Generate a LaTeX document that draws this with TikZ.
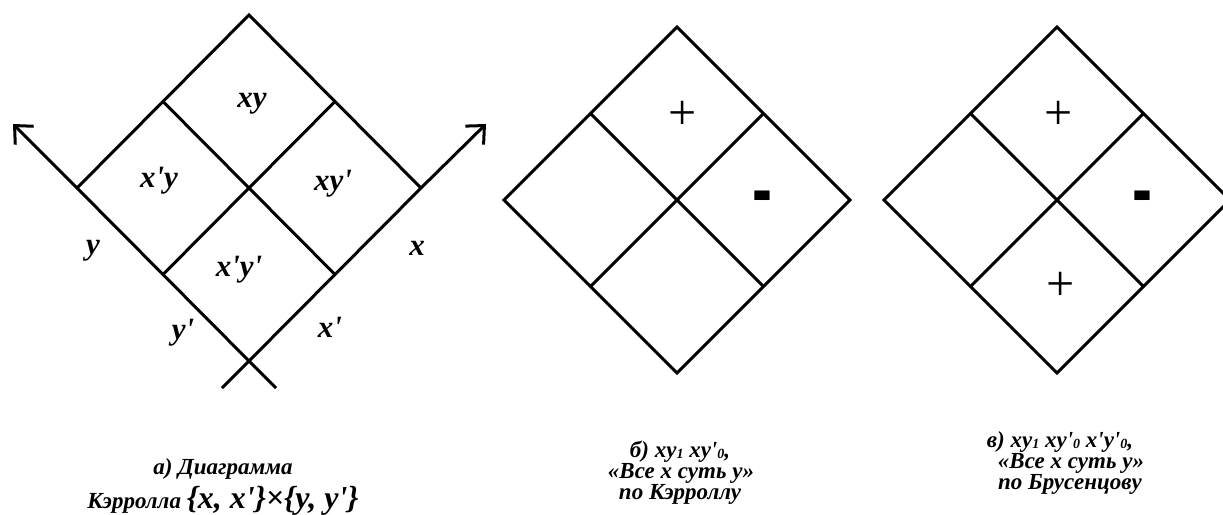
\documentclass[tikz,border=0pt]{standalone}
\usepackage{fontspec}
\newfontfamily\tnr{Liberation Serif}
\newfontfamily\arl{Liberation Sans}
\usetikzlibrary{arrows.meta,calc}
\newcommand\lowidx[1]{\raisebox{-1pt}{\fontsize{14}{14}\selectfont #1}}
\begin{document}
\begin{tikzpicture}[x=1pt,y=-1pt,
  edge/.style={line width=3pt},
  barb/.style={-{Straight Barb[length=14pt,width=26pt]}},
  lbl/.style={font=\tnr\bfseries\itshape\fontsize{31}{31}\selectfont, anchor=base, inner sep=0pt},
  captxt/.style={font=\tnr\bfseries\itshape\fontsize{23}{21}\selectfont, anchor=base, inner sep=0pt},
  plussign/.style={font=\tnr\fontsize{50}{50}\selectfont, inner sep=0pt},
  minussign/.style={font=\arl\bfseries\fontsize{40}{40}\selectfont, inner sep=0pt}
]
\useasboundingbox (0,0) rectangle (1223,514);

% ---------- diagram a ----------
\coordinate (aT) at (249,15);
\coordinate (aL) at (77,188);
\coordinate (aR) at (421,188);
\coordinate (aB) at (249,361);
\coordinate (aTL) at ($(aT)!0.5!(aL)$);
\coordinate (aTR) at ($(aT)!0.5!(aR)$);
\coordinate (aBL) at ($(aB)!0.5!(aL)$);
\coordinate (aBR) at ($(aB)!0.5!(aR)$);
\coordinate (aYend) at (276,388);
\coordinate (aXend) at (222,388);
\coordinate (aYtip) at (13,124);
\coordinate (aXtip) at (486,124);
\draw[edge] (aL) -- (aT) -- (aR);
\draw[edge] (aTL) -- (aBR);
\draw[edge] (aTR) -- (aBL);
\draw[edge,barb] (aYend) -- (aB) -- (aL) -- (aYtip);
\draw[edge,barb] (aXend) -- (aB) -- (aR) -- (aXtip);

\node[lbl] (lxy)   at (252,107) {xy};
\node[lbl] (lxpy)  at (159,187) {x'y};
\node[lbl] (lxyp)  at (333,190) {xy'};
\node[lbl] (lxpyp) at (239,276) {x'y'};
\node[lbl] (ly)    at (93,254) {y};
\node[lbl] (lx)    at (417,255) {x};
\node[lbl] (lyp)   at (183,339) {y'};
\node[lbl] (lxp)   at (330,337) {x'};

\node[captxt] (capa1) at (223,474) {а) Диаграмма};
\node[captxt] (capa2) at (223,508) {Кэрролла {\fontsize{32}{32}\selectfont\{x, x'\}×\{y, y'\}}};

% ---------- diagram b ----------
\coordinate (bT) at (677,27);
\coordinate (bL) at (504,200);
\coordinate (bR) at (850,200);
\coordinate (bB) at (677,373);
\coordinate (bTL) at ($(bT)!0.5!(bL)$);
\coordinate (bTR) at ($(bT)!0.5!(bR)$);
\coordinate (bBL) at ($(bB)!0.5!(bL)$);
\coordinate (bBR) at ($(bB)!0.5!(bR)$);
\draw[edge] (bT) -- (bR) -- (bB) -- (bL) -- cycle;
\draw[edge] (bTL) -- (bBR);
\draw[edge] (bTR) -- (bBL);
\node[plussign] (bplus) at (683,115) {+};
\node[minussign] (bminus) at (762,204) {\scalebox{1.5}[2]{-}};
\node[captxt] (capb1) at (680,457) {б) xy\lowidx{1} xy'\lowidx{0},};
\node[captxt] (capb2) at (681,478) {«Все x суть y»};
\node[captxt] (capb3) at (680,499) {по Кэрроллу};

% ---------- diagram c ----------
\coordinate (cT) at (1057,27);
\coordinate (cL) at (884,200);
\coordinate (cR) at (1230,200);
\coordinate (cB) at (1057,373);
\coordinate (cTL) at ($(cT)!0.5!(cL)$);
\coordinate (cTR) at ($(cT)!0.5!(cR)$);
\coordinate (cBL) at ($(cB)!0.5!(cL)$);
\coordinate (cBR) at ($(cB)!0.5!(cR)$);
\begin{scope}
\clip (0,0) rectangle (1223,514);
\draw[edge] (cT) -- (cR) -- (cB) -- (cL) -- cycle;
\draw[edge] (cTL) -- (cBR);
\draw[edge] (cTR) -- (cBL);
\end{scope}
\node[plussign] (cplus1) at (1059,115) {+};
\node[minussign] (cminus) at (1142,204) {\scalebox{1.5}[2]{-}};
\node[plussign] (cplus2) at (1061,286) {+};
\node[captxt] (capc1) at (1060,447) {в) xy\lowidx{1} xy'\lowidx{0} x'y'\lowidx{0},};
\node[captxt] (capc2) at (1071,468) {«Все x суть y»};
\node[captxt] (capc3) at (1070,489) {по Брусенцову};
\end{tikzpicture}
\end{document}
